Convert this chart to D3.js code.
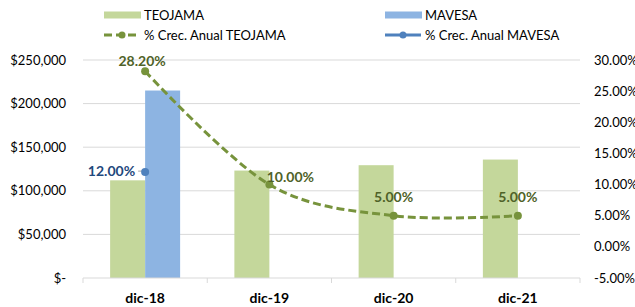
<!DOCTYPE html>
<html>
<head>
<meta charset="utf-8">
<script src="https://cdn.jsdelivr.net/npm/d3@7"></script>
<style>
  body { margin: 0; background: #fff; }
  svg { display: block; font-family: Lato, "Open Sans", sans-serif; }
</style>
</head>
<body>
<svg width="635" height="307"></svg>
<script>
// Data
var categories = ['dic-18', 'dic-19', 'dic-20', 'dic-21'];
var teojamaValues = [112000, 123200, 129360, 135828];
var mavesaValues = [215000, null, null, null];
var teojamaGrowth = [28.2, 10, 5, 5];
var mavesaGrowth = [12, null, null, null];
var leftTicks = [0, 50000, 100000, 150000, 200000, 250000];
var rightTicks = [-5, 0, 5, 10, 15, 20, 25, 30];

var colors = {
    teoBar: '#c4d79b', mavBar: '#8db4e2',
    teoLine: '#77933c', mavLine: '#4f81bd',
    teoLabel: '#4f6228', mavLabel: '#1f497d',
    grid: '#d9d9d9', text: '#000'
};

var svg = d3.select('svg');
var plot = {l: 83, r: 580, t: 60, b: 278};

var xScale = d3.scaleBand()
    .domain(categories)
    .range([plot.l, plot.r]);

var yLeft = d3.scaleLinear()
    .domain([0, 250000])
    .range([plot.b, plot.t]);

var yRight = d3.scaleLinear()
    .domain([-5, 30])
    .range([plot.b, plot.t]);

var barW = 35;

// Gridlines
svg.append('g').selectAll('line')
    .data(leftTicks.slice(1))
    .enter().append('line')
    .attr('x1', plot.l).attr('x2', plot.r)
    .attr('y1', function(d) { return yLeft(d); })
    .attr('y2', function(d) { return yLeft(d); })
    .attr('stroke', colors.grid).attr('stroke-width', 1);

// Left axis labels
svg.append('g').selectAll('text')
    .data(leftTicks)
    .enter().append('text')
    .attr('x', 66)
    .attr('y', function(d) { return yLeft(d); })
    .attr('dy', '0.35em')
    .attr('text-anchor', 'end')
    .attr('font-size', 13)
    .text(function(d) { return d === 0 ? '$-' : '$' + d3.format(',')(d); });

// Right axis labels
svg.append('g').selectAll('text')
    .data(rightTicks)
    .enter().append('text')
    .attr('x', 594)
    .attr('y', function(d) { return yRight(d); })
    .attr('dy', '0.35em')
    .attr('font-size', 13)
    .text(function(d) { return d.toFixed(2) + '%'; });

// Bars
var bars = svg.append('g');
bars.selectAll('.teo')
    .data(teojamaValues)
    .enter().append('rect')
    .attr('x', function(d, i) { return xScale(categories[i]) + xScale.bandwidth() / 2 - barW; })
    .attr('y', function(d) { return yLeft(d); })
    .attr('width', barW)
    .attr('height', function(d) { return yLeft(0) - yLeft(d); })
    .attr('fill', colors.teoBar);

bars.selectAll('.mav')
    .data(mavesaValues.filter(function(d) { return d !== null; }))
    .enter().append('rect')
    .attr('x', function(d, i) { return xScale(categories[i]) + xScale.bandwidth() / 2; })
    .attr('y', function(d) { return yLeft(d); })
    .attr('width', barW)
    .attr('height', function(d) { return yLeft(0) - yLeft(d); })
    .attr('fill', colors.mavBar);

// Bottom axis
var xAxisG = svg.append('g')
    .attr('transform', 'translate(0,' + plot.b + ')');
xAxisG.append('line')
    .attr('x1', plot.l).attr('x2', plot.r)
    .attr('stroke', colors.grid);
xAxisG.selectAll('.tick')
    .data(d3.range(categories.length + 1))
    .enter().append('line')
    .attr('x1', function(i) { return plot.l + i * xScale.bandwidth(); })
    .attr('x2', function(i) { return plot.l + i * xScale.bandwidth(); })
    .attr('y1', 0).attr('y2', 5)
    .attr('stroke', colors.grid);
xAxisG.selectAll('text')
    .data(categories)
    .enter().append('text')
    .attr('x', function(d) { return xScale(d) + xScale.bandwidth() / 2; })
    .attr('y', 20)
    .attr('dy', '0.35em')
    .attr('text-anchor', 'middle')
    .attr('font-size', 14)
    .attr('font-weight', 'bold')
    .text(function(d) { return d; });

function cx(i) { return xScale(categories[i]) + xScale.bandwidth() / 2; }

// TEOJAMA growth line (smoothed, dashed)
var teoPts = teojamaGrowth.map(function(v, i) { return [cx(i), yRight(v)]; });
var line = d3.line().curve(d3.curveCatmullRom.alpha(0));
svg.append('path')
    .attr('d', line(teoPts))
    .attr('fill', 'none')
    .attr('stroke', colors.teoLine)
    .attr('stroke-width', 3)
    .attr('stroke-dasharray', '8,4');
svg.append('g').selectAll('circle')
    .data(teoPts)
    .enter().append('circle')
    .attr('cx', function(d) { return d[0]; })
    .attr('cy', function(d) { return d[1]; })
    .attr('r', 4)
    .attr('fill', colors.teoLine);

// TEOJAMA labels
var teoLabelOff = [[-3, -10], [21, -7], [0, -19], [0, -19]];
svg.append('g').selectAll('text')
    .data(teojamaGrowth)
    .enter().append('text')
    .attr('x', function(d, i) { return teoPts[i][0] + teoLabelOff[i][0]; })
    .attr('y', function(d, i) { return teoPts[i][1] + teoLabelOff[i][1]; })
    .attr('dy', '0.35em')
    .attr('text-anchor', 'middle')
    .attr('font-size', 14)
    .attr('font-weight', 'bold')
    .attr('fill', colors.teoLabel)
    .text(function(d) { return d.toFixed(2) + '%'; });

// MAVESA growth point
mavesaGrowth.forEach(function(v, i) {
    if (v === null) return;
    var px = cx(i), py = yRight(v);
    svg.append('line')
        .attr('x1', px - 7).attr('x2', px)
        .attr('y1', py - 1).attr('y2', py - 1)
        .attr('stroke', '#a6a6a6');
    svg.append('circle')
        .attr('cx', px).attr('cy', py).attr('r', 4)
        .attr('fill', colors.mavLine);
    svg.append('text')
        .attr('x', px - 10).attr('y', py - 1)
        .attr('dy', '0.35em')
        .attr('text-anchor', 'end')
        .attr('font-size', 14)
        .attr('font-weight', 'bold')
        .attr('fill', colors.mavLabel)
        .text(v.toFixed(2) + '%');
});

// Legend
var legend = svg.append('g').attr('font-size', 13);
var legendItems = [
    {label: 'TEOJAMA', type: 'bar', color: colors.teoBar, x: 104, y: 15},
    {label: 'MAVESA', type: 'bar', color: colors.mavBar, x: 385, y: 15},
    {label: '% Crec. Anual TEOJAMA', type: 'dash', color: colors.teoLine, x: 104, y: 35},
    {label: '% Crec. Anual MAVESA', type: 'line', color: colors.mavLine, x: 385, y: 35}
];
legendItems.forEach(function(d) {
    var g = legend.append('g').attr('transform', 'translate(' + d.x + ',' + d.y + ')');
    if (d.type === 'bar') {
        g.append('rect').attr('x', 0).attr('y', -3.5).attr('width', 37).attr('height', 7).attr('fill', d.color);
    } else {
        g.append('line').attr('x1', 0).attr('x2', 36).attr('y1', 0).attr('y2', 0)
            .attr('stroke', d.color).attr('stroke-width', 3)
            .attr('stroke-dasharray', d.type === 'dash' ? '8,4' : null);
        g.append('circle').attr('cx', 18).attr('cy', 0).attr('r', 3.5).attr('fill', d.color);
    }
    g.append('text').attr('x', 40).attr('y', 0).attr('dy', '0.35em').attr('fill', colors.text).text(d.label);
});
</script>
</body>
</html>
